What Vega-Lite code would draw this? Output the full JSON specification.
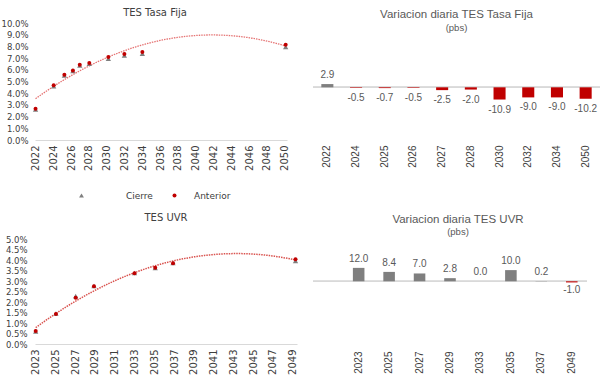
{
  "$schema": "https://vega.github.io/schema/vega-lite/v6.json",
  "background": "white",
  "padding": {"left": 0, "top": 8, "right": 0, "bottom": 0},
  "columns": 2,
  "bounds": "flush",
  "spacing": {"row": 97, "column": 16},
  "resolve": {"scale": {"color": "independent", "shape": "independent", "size": "independent"}, "legend": {"color": "independent", "shape": "independent", "size": "independent"}},
  "datasets": {
    "tf": [
      {"anio": 2022.0, "serie": "Cierre", "tasa": 2.62},
      {"anio": 2024.04, "serie": "Cierre", "tasa": 4.6},
      {"anio": 2025.24, "serie": "Cierre", "tasa": 5.52},
      {"anio": 2026.2, "serie": "Cierre", "tasa": 5.9},
      {"anio": 2026.97, "serie": "Cierre", "tasa": 6.38},
      {"anio": 2028.04, "serie": "Cierre", "tasa": 6.52},
      {"anio": 2030.18, "serie": "Cierre", "tasa": 6.95},
      {"anio": 2031.98, "serie": "Cierre", "tasa": 7.22},
      {"anio": 2034.0, "serie": "Cierre", "tasa": 7.38},
      {"anio": 2050.1, "serie": "Cierre", "tasa": 7.95},
      {"anio": 2022.0, "serie": "Anterior", "tasa": 2.68},
      {"anio": 2024.04, "serie": "Anterior", "tasa": 4.68},
      {"anio": 2025.24, "serie": "Anterior", "tasa": 5.58},
      {"anio": 2026.2, "serie": "Anterior", "tasa": 5.95},
      {"anio": 2026.97, "serie": "Anterior", "tasa": 6.44},
      {"anio": 2028.04, "serie": "Anterior", "tasa": 6.58},
      {"anio": 2030.18, "serie": "Anterior", "tasa": 7.1},
      {"anio": 2031.98, "serie": "Anterior", "tasa": 7.36},
      {"anio": 2034.0, "serie": "Anterior", "tasa": 7.52},
      {"anio": 2050.1, "serie": "Anterior", "tasa": 8.14}
    ],
    "uvr": [
      {"anio": 2023.0, "serie": "Cierre", "tasa": 0.6},
      {"anio": 2025.05, "serie": "Cierre", "tasa": 1.45},
      {"anio": 2027.05, "serie": "Cierre", "tasa": 2.28},
      {"anio": 2028.9, "serie": "Cierre", "tasa": 2.76},
      {"anio": 2033.0, "serie": "Cierre", "tasa": 3.38},
      {"anio": 2035.1, "serie": "Cierre", "tasa": 3.62},
      {"anio": 2036.9, "serie": "Cierre", "tasa": 3.86},
      {"anio": 2049.3, "serie": "Cierre", "tasa": 3.96},
      {"anio": 2023.0, "serie": "Anterior", "tasa": 0.62},
      {"anio": 2025.05, "serie": "Anterior", "tasa": 1.43},
      {"anio": 2027.05, "serie": "Anterior", "tasa": 2.2},
      {"anio": 2028.9, "serie": "Anterior", "tasa": 2.75},
      {"anio": 2033.0, "serie": "Anterior", "tasa": 3.37},
      {"anio": 2035.1, "serie": "Anterior", "tasa": 3.63},
      {"anio": 2036.9, "serie": "Anterior", "tasa": 3.85},
      {"anio": 2049.3, "serie": "Anterior", "tasa": 4.04}
    ],
    "vtf": [
      {"bono": "2022", "pbs": 2.9},
      {"bono": "2024", "pbs": -0.5},
      {"bono": "2025", "pbs": -0.7},
      {"bono": "2026", "pbs": -0.5},
      {"bono": "2027", "pbs": -2.5},
      {"bono": "2028", "pbs": -2.0},
      {"bono": "2030", "pbs": -10.9},
      {"bono": "2032", "pbs": -9.0},
      {"bono": "2034", "pbs": -9.0},
      {"bono": "2050", "pbs": -10.2}
    ],
    "vuvr": [
      {"bono": "2023", "pbs": 12.0},
      {"bono": "2025", "pbs": 8.4},
      {"bono": "2027", "pbs": 7.0},
      {"bono": "2029", "pbs": 2.8},
      {"bono": "2033", "pbs": 0.0},
      {"bono": "2035", "pbs": 10.0},
      {"bono": "2037", "pbs": 0.2},
      {"bono": "2049", "pbs": -1.0}
    ]
  },
  "concat": [
    {
      "width": 252,
      "height": 117,
      "title": {"text": "TES Tasa Fija", "font": "DejaVu Sans", "fontSize": 10, "fontWeight": "normal", "color": "#404040", "offset": 1, "dx": -6},
      "data": {"name": "tf"},
      "encoding": {
        "x": {
          "field": "anio", "type": "quantitative",
          "scale": {"domain": [2021.94, 2050.25], "nice": false, "zero": false},
          "axis": {"values": [2022, 2024, 2026, 2028, 2030, 2032, 2034, 2036, 2038, 2040, 2042, 2044, 2046, 2048, 2050], "format": "d", "labelAngle": 270, "labelOverlap": false, "title": null, "domainColor": "#d9d9d9", "labelPadding": 5, "labelFont": "DejaVu Sans", "labelFontSize": 10}
        },
        "y": {
          "field": "tasa", "type": "quantitative",
          "scale": {"domain": [0, 10], "nice": false},
          "axis": {"values": [0, 1, 2, 3, 4, 5, 6, 7, 8, 9, 10], "labelExpr": "format(datum.value, '.1f') + '%'", "labelOverlap": false, "title": null, "domain": false, "labelPadding": 7, "labelFont": "DejaVu Sans", "labelFontSize": 8.5}
        }
      },
      "layer": [
        {
          "transform": [
            {"filter": "datum.serie == 'Anterior'"},
            {"regression": "tasa", "on": "anio", "method": "poly", "order": 2, "extent": [2022, 2050]}
          ],
          "mark": {"type": "line", "color": "#e57373", "strokeWidth": 1.3, "strokeDash": [1.5, 1]},
          "encoding": {}
        },
        {
          "transform": [{"filter": "datum.serie == 'Cierre'"}],
          "mark": {"type": "point", "filled": true, "opacity": 1, "size": 28, "color": "#7f7f7f"},
          "encoding": {
            "shape": {
              "field": "serie", "type": "nominal",
              "scale": {"domain": ["Cierre"], "range": ["triangle-up"]},
              "legend": {"title": null, "orient": "none", "legendX": 42, "legendY": 168, "labelFont": "DejaVu Sans", "labelFontSize": 9, "labelColor": "#404040", "labelOffset": 40, "symbolSize": 24, "symbolFillColor": "#7f7f7f", "symbolStrokeColor": "#7f7f7f"}
            }
          }
        },
        {
          "transform": [{"filter": "datum.serie == 'Anterior'"}],
          "mark": {"type": "point", "filled": true, "opacity": 1, "size": 16, "shape": "circle"},
          "encoding": {
            "color": {
              "field": "serie", "type": "nominal",
              "scale": {"domain": ["Anterior"], "range": ["#c00000"]},
              "legend": {"title": null, "orient": "none", "legendX": 135, "legendY": 168, "labelFont": "DejaVu Sans", "labelFontSize": 9, "labelColor": "#404040", "labelOffset": 15, "symbolSize": 16, "symbolType": "circle"}
            }
          }
        }
      ]
    },
    {
      "width": 287,
      "height": 119,
      "title": {"text": "Variacion diaria TES Tasa Fija", "subtitle": "(pbs)", "font": "Liberation Sans", "fontSize": 11.5, "fontWeight": "normal", "color": "#595959", "subtitleFont": "Liberation Sans", "subtitleFontSize": 9.5, "subtitleColor": "#595959", "subtitlePadding": 2, "offset": -9},
      "data": {"name": "vtf"},
      "layer": [
        {
          "mark": {"type": "rule", "color": "#d9d9d9", "strokeWidth": 1},
          "encoding": {"y": {"datum": 0, "type": "quantitative", "scale": {"domain": [-48.8, 57.4], "nice": false, "zero": false}, "axis": null}}
        },
        {
          "mark": {"type": "bar"},
          "encoding": {
            "x": {"field": "bono", "type": "nominal", "sort": null, "scale": {"paddingInner": 0.58, "paddingOuter": 0.29}, "axis": {"labelAngle": 270, "labelOverlap": false, "title": null, "domain": false, "labelPadding": 3, "labelFont": "Liberation Sans", "labelFontSize": 10}},
            "y": {"field": "pbs", "type": "quantitative", "axis": null},
            "color": {"condition": {"test": "datum.pbs < 0", "value": "#c00000"}, "value": "#7f7f7f"}
          }
        },
        {
          "transform": [{"filter": "datum.pbs >= 0"}],
          "mark": {"type": "text", "baseline": "bottom", "dy": -4, "font": "Liberation Sans", "fontSize": 10, "color": "#595959"},
          "encoding": {
            "x": {"field": "bono", "type": "nominal", "sort": null},
            "y": {"field": "pbs", "type": "quantitative"},
            "text": {"field": "pbs", "type": "quantitative", "format": ".1f"}
          }
        },
        {
          "transform": [{"filter": "datum.pbs < 0"}],
          "mark": {"type": "text", "baseline": "top", "dy": 5, "font": "Liberation Sans", "fontSize": 10, "color": "#595959"},
          "encoding": {
            "x": {"field": "bono", "type": "nominal", "sort": null},
            "y": {"field": "pbs", "type": "quantitative"},
            "text": {"field": "pbs", "type": "quantitative", "format": ".1f"}
          }
        }
      ]
    },
    {
      "width": 262,
      "height": 105,
      "title": {"text": "TES UVR", "font": "DejaVu Sans", "fontSize": 10, "fontWeight": "normal", "color": "#404040", "offset": 12, "dx": 0},
      "data": {"name": "uvr"},
      "encoding": {
        "x": {
          "field": "anio", "type": "quantitative",
          "scale": {"domain": [2022.93, 2049.45], "nice": false, "zero": false},
          "axis": {"values": [2023, 2025, 2027, 2029, 2031, 2033, 2035, 2037, 2039, 2041, 2043, 2045, 2047, 2049], "format": "d", "labelAngle": 270, "labelOverlap": false, "title": null, "domainColor": "#d9d9d9", "labelPadding": 5, "labelFont": "DejaVu Sans", "labelFontSize": 10}
        },
        "y": {
          "field": "tasa", "type": "quantitative",
          "scale": {"domain": [0, 5], "nice": false},
          "axis": {"values": [0, 0.5, 1, 1.5, 2, 2.5, 3, 3.5, 4, 4.5, 5], "labelExpr": "format(datum.value, '.1f') + '%'", "labelOverlap": false, "title": null, "domain": false, "labelPadding": 8, "labelFont": "DejaVu Sans", "labelFontSize": 8.5}
        }
      },
      "layer": [
        {
          "transform": [
            {"filter": "datum.serie == 'Anterior'"},
            {"regression": "tasa", "on": "anio", "method": "poly", "order": 2, "extent": [2023, 2049.3]}
          ],
          "mark": {"type": "line", "color": "#d9534f", "strokeWidth": 1.5, "strokeDash": [1.5, 1]},
          "encoding": {}
        },
        {
          "transform": [{"filter": "datum.serie == 'Cierre'"}],
          "mark": {"type": "point", "filled": true, "opacity": 1, "size": 28, "shape": "triangle-up", "color": "#7f7f7f"},
          "encoding": {}
        },
        {
          "transform": [{"filter": "datum.serie == 'Anterior'"}],
          "mark": {"type": "point", "filled": true, "opacity": 1, "size": 16, "shape": "circle", "color": "#c00000"},
          "encoding": {}
        }
      ]
    },
    {
      "width": 274,
      "height": 109,
      "title": {"text": "Variacion diaria TES UVR", "subtitle": "(pbs)", "font": "Liberation Sans", "fontSize": 11.5, "fontWeight": "normal", "color": "#595959", "subtitleFont": "Liberation Sans", "subtitleFontSize": 9.5, "subtitleColor": "#595959", "subtitlePadding": 1, "offset": 3, "dx": 8},
      "data": {"name": "vuvr"},
      "layer": [
        {
          "mark": {"type": "rule", "color": "#d9d9d9", "strokeWidth": 1},
          "encoding": {"y": {"datum": 0, "type": "quantitative", "scale": {"domain": [-59.6, 37.8], "nice": false, "zero": false}, "axis": null}}
        },
        {
          "mark": {"type": "bar"},
          "encoding": {
            "x": {"field": "bono", "type": "nominal", "sort": null, "scale": {"domain": [" ", "2023", "2025", "2027", "2029", "2033", "2035", "2037", "2049"], "paddingInner": 0.62, "paddingOuter": 0.31}, "axis": {"labelAngle": 270, "labelOverlap": false, "title": null, "domain": false, "labelPadding": 3, "labelFont": "Liberation Sans", "labelFontSize": 10}},
            "y": {"field": "pbs", "type": "quantitative", "axis": null},
            "color": {"condition": {"test": "datum.pbs < 0", "value": "#c00000"}, "value": "#7f7f7f"}
          }
        },
        {
          "transform": [{"filter": "datum.pbs >= 0"}],
          "mark": {"type": "text", "baseline": "bottom", "dy": -4, "font": "Liberation Sans", "fontSize": 10, "color": "#595959"},
          "encoding": {
            "x": {"field": "bono", "type": "nominal", "sort": null},
            "y": {"field": "pbs", "type": "quantitative"},
            "text": {"field": "pbs", "type": "quantitative", "format": ".1f"}
          }
        },
        {
          "transform": [{"filter": "datum.pbs < 0"}],
          "mark": {"type": "text", "baseline": "top", "dy": 3, "font": "Liberation Sans", "fontSize": 10, "color": "#595959"},
          "encoding": {
            "x": {"field": "bono", "type": "nominal", "sort": null},
            "y": {"field": "pbs", "type": "quantitative"},
            "text": {"field": "pbs", "type": "quantitative", "format": ".1f"}
          }
        }
      ]
    }
  ],
  "config": {
    "view": {"stroke": null},
    "axis": {"labelColor": "#404040", "grid": false, "ticks": false, "labelOverlap": false},
    "locale": {"number": {"decimal": ".", "thousands": ",", "grouping": [3], "currency": ["$", ""], "minus": "-"}}
  }
}
